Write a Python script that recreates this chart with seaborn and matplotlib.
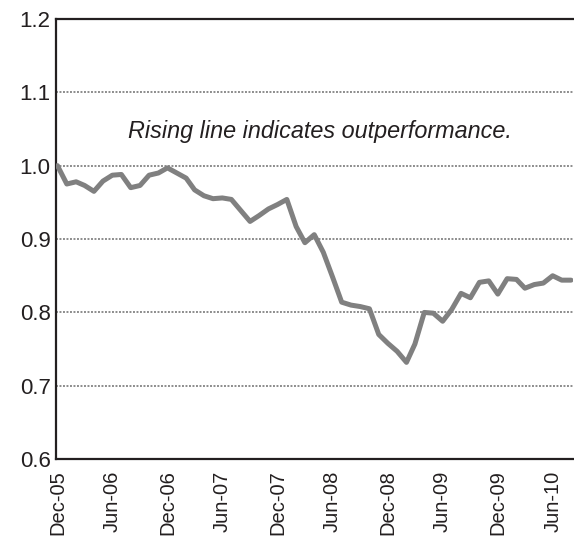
import pandas as pd
import numpy as np
import matplotlib
matplotlib.use("Agg")
import matplotlib.pyplot as plt
import seaborn as sns

# monthly relative performance, Dec-05 .. Aug-10
start_month = "2005-12-01"
end_month = "2010-08-01"
relative_perf = [
    1.000, 0.975, 0.978, 0.973, 0.965, 0.979, 0.987, 0.988, 0.970, 0.973,
    0.987, 0.990, 0.997, 0.990, 0.983, 0.967, 0.959, 0.955, 0.956, 0.954,
    0.939, 0.924, 0.932, 0.941, 0.947, 0.954, 0.917, 0.895, 0.906, 0.882,
    0.848, 0.814, 0.810, 0.808, 0.805, 0.770, 0.758, 0.747, 0.732, 0.757,
    0.800, 0.799, 0.788, 0.804, 0.826, 0.820, 0.841, 0.843, 0.825, 0.846,
    0.845, 0.833, 0.838, 0.840, 0.850, 0.844, 0.844,
]
tick_labels = ["Dec-05", "Jun-06", "Dec-06", "Jun-07", "Dec-07",
               "Jun-08", "Dec-08", "Jun-09", "Dec-09", "Jun-10"]
y_ticks = [0.6, 0.7, 0.8, 0.9, 1.0, 1.1, 1.2]
note = "Rising line indicates outperformance."

df = pd.DataFrame({
    "month": pd.date_range(start_month, end_month, freq="MS"),
    "value": relative_perf,
})
tick_dates = pd.to_datetime(tick_labels, format="%b-%y")

sns.set_style("white")
plt.rcParams["font.family"] = ["Liberation Sans", "DejaVu Sans"]

fig = plt.figure(figsize=(5.74, 5.39), dpi=100)
ax = fig.add_axes([0.098, 0.148, 0.900, 0.817])

# dotted gridlines (not at the axis limits)
for v in y_ticks[1:-1]:
    ax.axhline(v, color="#8c8c8c", linestyle=(0, (1, 0.8)), linewidth=1.4, zorder=1)

sns.lineplot(data=df, x="month", y="value", color="#808080",
             linewidth=3.6, ax=ax, zorder=3)

ax.set_ylim(0.6, 1.2)
ax.set_xlim(df["month"].iloc[0] - pd.Timedelta(days=4),
            df["month"].iloc[-1] + pd.Timedelta(days=6))
ax.set_yticks(y_ticks)
ax.set_yticklabels([f"{v:.1f}" for v in y_ticks], fontsize=16, color="#231f20")
ax.set_xticks(tick_dates)
ax.set_xticklabels(tick_labels, rotation=90, fontsize=14.5, color="#231f20")
ax.tick_params(axis="x", direction="in", length=7, width=1.5,
               color="#231f20", pad=8)
ax.tick_params(axis="y", length=0, pad=4)
ax.set_xlabel("")
ax.set_ylabel("")

for side in ["left", "bottom", "top"]:
    ax.spines[side].set_color("#231f20")
    ax.spines[side].set_linewidth(1.6)
ax.spines["right"].set_visible(False)

ax.text(pd.Timestamp("2008-04-20"), 1.046, note, style="italic",
        fontsize=16.8, ha="center", va="center", color="#231f20")

fig.savefig("out.png", dpi=100)
